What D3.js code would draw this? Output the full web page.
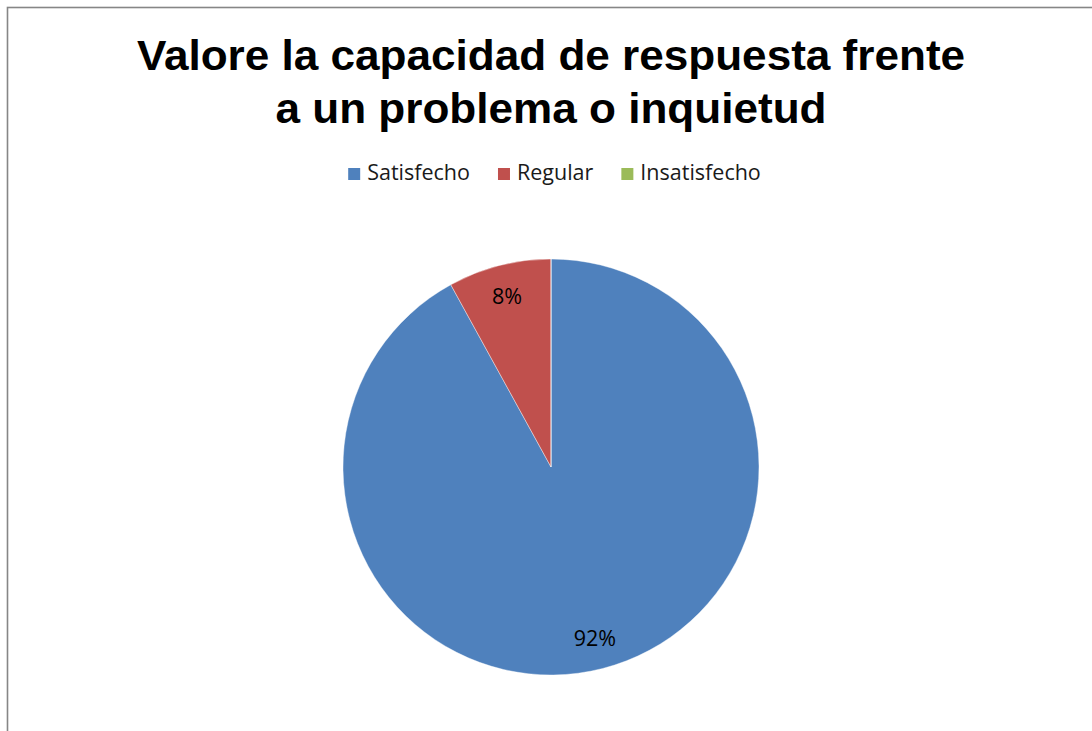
<!DOCTYPE html>
<html>
<head>
<meta charset="utf-8">
<script src="https://cdn.jsdelivr.net/npm/d3@7"></script>
<style>
  html, body { margin: 0; padding: 0; background: #fff; overflow: hidden; }
  svg { display: block; }
</style>
</head>
<body>
<svg id="chart" width="1092" height="731"></svg>
<script>
// Survey answers: share of each response category (percent)
const categories = ["Satisfecho", "Regular", "Insatisfecho"];
const values = [92, 8, 0];
const colors = ["#4F81BD", "#C0504D", "#9BBB59"];
const titleLines = ["Valore la capacidad de respuesta frente", "a un problema o inquietud"];

const svg = d3.select("#chart");
const W = 1092, H = 731;

// chart frame (extends past the right and bottom edges)
svg.append("rect")
  .attr("x", 7.5).attr("y", 7.5)
  .attr("width", W + 20).attr("height", H + 20)
  .attr("fill", "#fff")
  .attr("stroke", "#868686")
  .attr("stroke-width", 1.6);

// title, slightly widened to the chart's wide bold face
const titleG = svg.append("g")
  .attr("transform", "translate(551,0) scale(1.05,1)");
const title = titleG.append("text")
  .attr("text-anchor", "middle")
  .attr("font-family", "'Liberation Sans', Arial, sans-serif")
  .attr("font-weight", "bold")
  .attr("font-size", 42)
  .attr("fill", "#000");
titleLines.forEach((line, i) => {
  title.append("tspan")
    .attr("x", 0)
    .attr("y", 70 + i * 53)
    .text(line);
});

// legend, laid out left to right and centred
const labelFont = "'Open Sans', 'Noto Sans', sans-serif";
const legend = svg.append("g").attr("transform", "translate(0,180)");
const items = legend.selectAll("g.item")
  .data(categories)
  .join("g")
  .attr("class", "item");
items.append("rect")
  .attr("y", -12)
  .attr("width", 12).attr("height", 12)
  .attr("fill", (d, i) => colors[i]);
items.append("text")
  .attr("x", 19)
  .attr("y", 0)
  .attr("font-family", labelFont)
  .attr("font-size", 21.5)
  .attr("fill", "#1a1a1a")
  .text(d => d);

let offset = 0;
const offsets = [];
items.each(function () {
  offsets.push(offset);
  const tw = d3.select(this).select("text").node().getComputedTextLength();
  offset += 19 + tw + 28;
});
const totalW = offset - 28;
const startX = 554.5 - totalW / 2;
items.attr("transform", (d, i) => `translate(${startX + offsets[i]},0)`);

// pie
const cx = 551, cy = 467, r = 208;
const pie = d3.pie().sort(null).value(d => d)(values);
const arc = d3.arc().innerRadius(0).outerRadius(r);
const labelArc = d3.arc().innerRadius(r * 0.85).outerRadius(r * 0.85);

const g = svg.append("g").attr("transform", `translate(${cx},${cy})`);
g.selectAll("path")
  .data(pie)
  .join("path")
  .attr("d", arc)
  .attr("fill", (d, i) => colors[i])
  .attr("stroke", "#fff")
  .attr("stroke-width", 0.4);

g.selectAll("text.lbl")
  .data(pie.filter(d => d.value > 0))
  .join("text")
  .attr("class", "lbl")
  .attr("transform", d => `translate(${labelArc.centroid(d)})`)
  .attr("text-anchor", "middle")
  .attr("dy", "0.36em")
  .attr("font-family", labelFont)
  .attr("font-size", 21.5)
  .attr("fill", "#000")
  .text(d => d.value + "%");
</script>
</body>
</html>
